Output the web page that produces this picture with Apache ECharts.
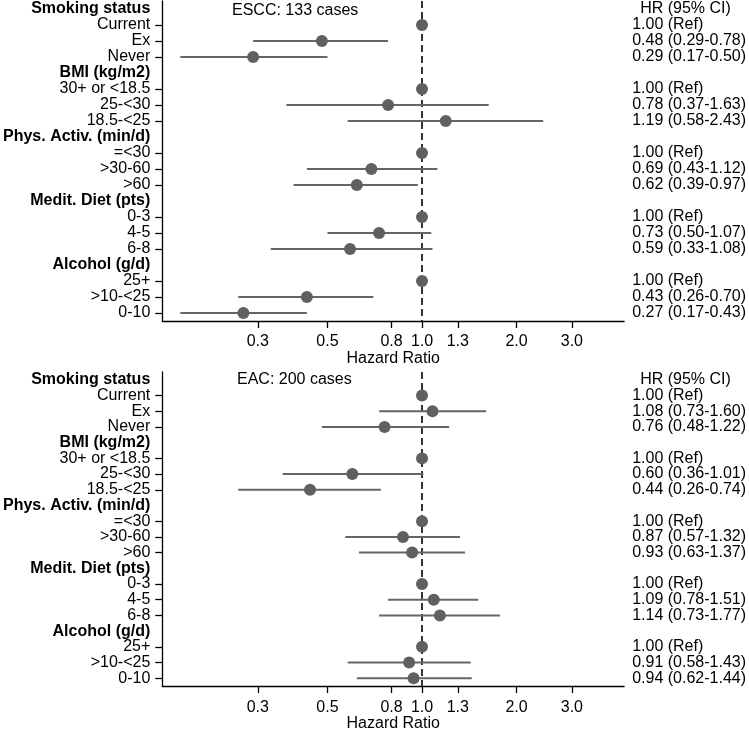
<!DOCTYPE html>
<html>
<head>
<meta charset="utf-8">
<script src="https://cdn.jsdelivr.net/npm/echarts@6/dist/echarts.min.js"></script>
<style>
html,body{margin:0;padding:0;background:#fff;}
#chart{width:749px;height:733px;}
</style>
</head>
<body>
<div id="chart"></div>
<script>
// ---- data ----
const groupHeaders = ['Smoking status', 'BMI (kg/m2)', 'Phys. Activ. (min/d)', 'Medit. Diet (pts)', 'Alcohol (g/d)'];
const groupItems = [
  ['Current', 'Ex', 'Never'],
  ['30+ or <18.5', '25-<30', '18.5-<25'],
  ['=<30', '>30-60', '>60'],
  ['0-3', '4-5', '6-8'],
  ['25+', '>10-<25', '0-10']
];
const esccHR = [1.00, 0.48, 0.29, 1.00, 0.78, 1.19, 1.00, 0.69, 0.62, 1.00, 0.73, 0.59, 1.00, 0.43, 0.27];
const esccLo = [null, 0.29, 0.17, null, 0.37, 0.58, null, 0.43, 0.39, null, 0.50, 0.33, null, 0.26, 0.17];
const esccHi = [null, 0.78, 0.50, null, 1.63, 2.43, null, 1.12, 0.97, null, 1.07, 1.08, null, 0.70, 0.43];
const eacHR = [1.00, 1.08, 0.76, 1.00, 0.60, 0.44, 1.00, 0.87, 0.93, 1.00, 1.09, 1.14, 1.00, 0.91, 0.94];
const eacLo = [null, 0.73, 0.48, null, 0.36, 0.26, null, 0.57, 0.63, null, 0.78, 0.73, null, 0.58, 0.62];
const eacHi = [null, 1.60, 1.22, null, 1.01, 0.74, null, 1.32, 1.37, null, 1.51, 1.77, null, 1.43, 1.44];
const panelTitles = ['ESCC: 133 cases', 'EAC: 200 cases'];
const xTicks = [0.3, 0.5, 0.8, 1.0, 1.3, 2.0, 3.0];
const xRange = [0.149, 4.40];
const refValue = 1.0;
const columnHeader = 'HR (95% CI)';
const xName = 'Hazard Ratio';

// ---- build rows ----
const rowLabels = [];
const rowIsHeader = [];
const rowItemIdx = [];
let k = 0;
groupHeaders.forEach((h, g) => {
  rowLabels.push(h); rowIsHeader.push(true); rowItemIdx.push(-1);
  groupItems[g].forEach(it => {
    rowLabels.push(it); rowIsHeader.push(false); rowItemIdx.push(k++);
  });
});
const nRows = rowLabels.length;
const allRows = rowLabels.map((_, i) => i);
const itemRows = allRows.filter(i => !rowIsHeader[i]);
// blank guard labels at the axis ends so the edge-label overlap check drops them instead of real rows
const labelValues = [-0.5].concat(allRows, [nRows - 0.5]);

function rightText(hr, lo, hi) {
  return rowItemIdx.map((j, i) => {
    if (j < 0) return i === 0 ? columnHeader : '';
    if (lo[j] == null) return hr[j].toFixed(2) + ' (Ref)';
    return hr[j].toFixed(2) + ' (' + lo[j].toFixed(2) + '-' + hi[j].toFixed(2) + ')';
  });
}
const L = Math.log10;
const FONT = '"Liberation Sans", Arial, Helvetica, sans-serif';
const isRow = v => Math.abs(v - Math.round(v)) < 1e-6 && v >= 0 && v < nRows;

const panels = [
  {hr: esccHR, lo: esccLo, hi: esccHi, title: panelTitles[0], top: 1, height: 320, titleLeft: 232, titleTop: 3},
  {hr: eacHR, lo: eacLo, hi: eacHi, title: panelTitles[1], top: 372, height: 320, titleLeft: 237, titleTop: 372}
];

const option = {
  animation: false,
  backgroundColor: '#fff',
  textStyle: {fontFamily: FONT},
  title: panels.map(p => ({
    text: p.title, left: p.titleLeft, top: p.titleTop, padding: 0,
    textStyle: {fontSize: 16, fontWeight: 'normal', color: '#000', fontFamily: FONT}
  })),
  grid: panels.map(p => ({left: 158, right: 117, top: p.top, height: p.height, containLabel: false})),
  xAxis: panels.map((p, gi) => ({
    type: 'value', gridIndex: gi,
    min: L(xRange[0]), max: L(xRange[1]),
    name: xName, nameLocation: 'middle', nameGap: 28,
    nameTextStyle: {fontSize: 16, color: '#000', fontFamily: FONT},
    axisLine: {show: true, onZero: false, lineStyle: {color: '#000', width: 1.3}},
    axisTick: {show: true, length: 7, customValues: xTicks.map(L), lineStyle: {color: '#000', width: 1.3}},
    axisLabel: {show: true, margin: 13, fontSize: 16, color: '#000', fontFamily: FONT,
      customValues: xTicks.map(L),
      formatter: v => Math.pow(10, v).toFixed(1)},
    splitLine: {show: false}
  })),
  yAxis: [],
  series: []
};

panels.forEach((p, gi) => {
  const rt = rightText(p.hr, p.lo, p.hi);
  option.yAxis.push({
    type: 'value', gridIndex: gi, inverse: true, min: -0.5, max: nRows - 0.5, position: 'left',
    axisLine: {show: true, onZero: false, lineStyle: {color: '#000', width: 1.3}},
    axisTick: {show: true, length: 7, customValues: itemRows, lineStyle: {color: '#000', width: 1.3}},
    axisLabel: {
      margin: 12, fontSize: 16, lineHeight: 14, color: '#000', fontFamily: FONT,
      customValues: labelValues,
      formatter: (v) => {
        if (!isRow(v)) return '';
        const i = Math.round(v);
        return rowIsHeader[i] ? '{b|' + rowLabels[i] + '}' : rowLabels[i];
      },
      rich: {b: {fontWeight: 'bold', fontSize: 16, lineHeight: 14, color: '#000', fontFamily: FONT}}
    },
    splitLine: {show: false}
  });
  option.yAxis.push({
    type: 'value', gridIndex: gi, inverse: true, min: -0.5, max: nRows - 0.5, position: 'right',
    axisLine: {show: false, onZero: false}, axisTick: {show: false},
    axisLabel: {
      margin: 8, align: 'left', fontSize: 16, lineHeight: 14, color: '#000', fontFamily: FONT,
      customValues: labelValues,
      formatter: (v) => {
        if (!isRow(v)) return '';
        const i = Math.round(v);
        return i === 0 ? '{h|' + rt[i] + '}' : rt[i];
      },
      rich: {h: {padding: [0, 0, 0, 8], fontSize: 16, lineHeight: 14, color: '#000', fontFamily: FONT}}
    },
    splitLine: {show: false}
  });
  const yA = gi * 2;
  const ciData = [];
  rowItemIdx.forEach((j, i) => {
    if (j >= 0 && p.lo[j] != null) ciData.push([L(p.lo[j]), L(p.hi[j]), i]);
  });
  option.series.push({
    type: 'custom', xAxisIndex: gi, yAxisIndex: yA, z: 2,
    data: ciData,
    encode: {x: [0, 1], y: 2},
    renderItem: (params, api) => {
      const a = api.coord([api.value(0), api.value(2)]);
      const b = api.coord([api.value(1), api.value(2)]);
      return {type: 'line', shape: {x1: a[0], y1: a[1], x2: b[0], y2: b[1]},
        style: {stroke: '#666', lineWidth: 2}};
    }
  });
  const ptData = [];
  rowItemIdx.forEach((j, i) => { if (j >= 0) ptData.push([L(p.hr[j]), i]); });
  option.series.push({
    type: 'scatter', xAxisIndex: gi, yAxisIndex: yA, z: 5,
    symbol: 'circle', symbolSize: 12,
    itemStyle: {color: '#606060', opacity: 1},
    data: ptData,
    markLine: {
      silent: true, symbol: 'none', label: {show: false}, z: 1,
      lineStyle: {color: '#333', width: 2, type: [7, 4]},
      data: [{xAxis: L(refValue)}]
    }
  });
});

const chart = echarts.init(document.getElementById('chart'), null, {renderer: 'canvas'});
chart.setOption(option);
</script>
</body>
</html>
